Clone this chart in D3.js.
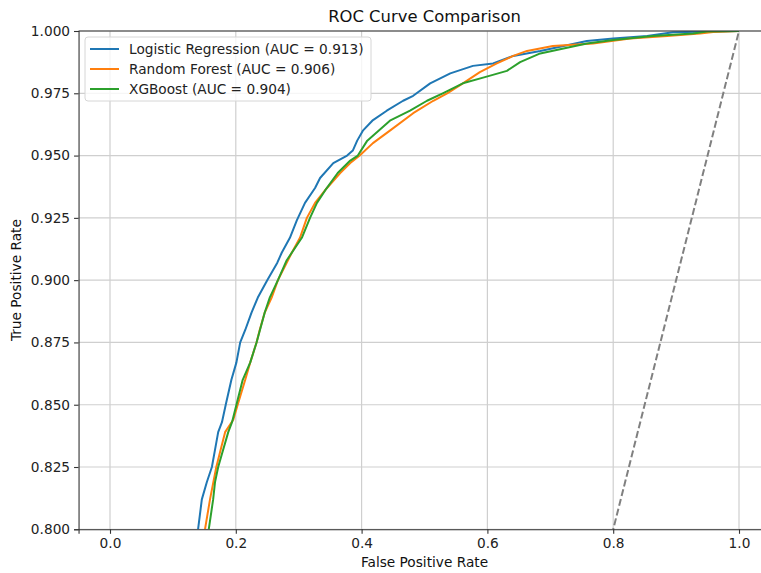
<!DOCTYPE html>
<html>
<head>
<meta charset="utf-8">
<script src="https://cdn.jsdelivr.net/npm/d3@7"></script>
<style>
  body { margin: 0; background: #fff; }
  svg { font-family: "DejaVu Sans", sans-serif; }
  .tick text { font-size: 13.7px; fill: #222; }
</style>
</head>
<body>
<div id="chart"></div>
<script>
// model names and AUC as printed in the legend
var models = ['Logistic Regression', 'Random Forest', 'XGBoost'];
var aucs = [0.913, 0.906, 0.904];
var colours = ['#1f77b4', '#ff7f0e', '#2ca02c'];

// roc points (only the visible part, tpr >= 0.8)
var fpr_lr = [0.140, 0.146, 0.154, 0.162, 0.167, 0.172, 0.178, 0.184, 0.193, 0.201, 0.207, 0.215, 0.225, 0.235, 0.250, 0.266, 0.273, 0.286, 0.297, 0.310, 0.326, 0.334, 0.355, 0.377, 0.386, 0.393, 0.402, 0.417, 0.440, 0.466, 0.482, 0.509, 0.541, 0.577, 0.609, 0.641, 0.684, 0.758, 0.800, 0.854, 0.895, 0.959, 1.000];
var tpr_lr = [0.800, 0.812, 0.819, 0.825, 0.832, 0.839, 0.843, 0.850, 0.860, 0.867, 0.875, 0.880, 0.887, 0.893, 0.900, 0.907, 0.911, 0.917, 0.924, 0.931, 0.937, 0.941, 0.947, 0.950, 0.952, 0.956, 0.960, 0.964, 0.968, 0.972, 0.974, 0.979, 0.983, 0.986, 0.987, 0.990, 0.992, 0.996, 0.997, 0.998, 0.9995, 0.9998, 1.000];

var fpr_rf = [0.151, 0.159, 0.169, 0.176, 0.183, 0.196, 0.203, 0.215, 0.223, 0.233, 0.238, 0.246, 0.257, 0.267, 0.289, 0.302, 0.313, 0.326, 0.345, 0.366, 0.382, 0.397, 0.418, 0.445, 0.482, 0.514, 0.536, 0.561, 0.588, 0.615, 0.641, 0.663, 0.704, 0.768, 0.827, 0.886, 0.938, 0.959, 1.000];
var tpr_rf = [0.800, 0.812, 0.825, 0.832, 0.839, 0.844, 0.850, 0.860, 0.867, 0.875, 0.880, 0.887, 0.893, 0.900, 0.911, 0.917, 0.925, 0.931, 0.937, 0.943, 0.947, 0.950, 0.955, 0.960, 0.967, 0.972, 0.975, 0.979, 0.9835, 0.987, 0.990, 0.992, 0.994, 0.995, 0.997, 0.998, 0.999, 0.9996, 1.000];

var fpr_xgb = [0.157, 0.164, 0.167, 0.172, 0.180, 0.188, 0.194, 0.201, 0.211, 0.223, 0.233, 0.246, 0.254, 0.267, 0.281, 0.305, 0.318, 0.329, 0.342, 0.362, 0.382, 0.394, 0.409, 0.445, 0.477, 0.504, 0.529, 0.561, 0.596, 0.631, 0.652, 0.684, 0.758, 0.800, 0.863, 0.927, 0.949, 1.000];
var tpr_xgb = [0.800, 0.812, 0.819, 0.825, 0.832, 0.839, 0.843, 0.850, 0.860, 0.867, 0.875, 0.887, 0.893, 0.900, 0.908, 0.917, 0.925, 0.931, 0.936, 0.943, 0.948, 0.950, 0.956, 0.964, 0.968, 0.972, 0.975, 0.979, 0.9815, 0.984, 0.9875, 0.991, 0.995, 0.9964, 0.998, 0.999, 0.9998, 1.000];

var x_ticks = [0.0, 0.2, 0.4, 0.6, 0.8, 1.0];
var y_ticks = [0.800, 0.825, 0.850, 0.875, 0.900, 0.925, 0.950, 0.975, 1.000];

function draw_roc() {
  var fprs = [fpr_lr, fpr_rf, fpr_xgb],
      tprs = [tpr_lr, tpr_rf, tpr_xgb];

  var width = 761, height = 573,
      unit = 629,
      x0 = 110,
      font_size = 13.7;

  var x = d3.scaleLinear()
      .domain([-0.05, 1.05])
      .range([x0 - 0.05*unit, x0 + 1.05*unit]);

  var y = d3.scaleLinear()
      .domain([0.8, 1.0])
      .range([529.3, 31]);

  var svg = d3.select('#chart')
      .append('svg')
      .attr('width', width)
      .attr('height', height);

  var p_left = x.range()[0], p_right = x.range()[1],
      p_top = y.range()[1], p_bottom = y.range()[0];

  svg.append('defs').append('clipPath')
      .attr('id', 'plot-clip')
    .append('rect')
      .attr('x', p_left)
      .attr('y', p_top)
      .attr('width', p_right - p_left)
      .attr('height', p_bottom - p_top);

  // grid
  svg.append('g')
    .selectAll('line')
    .data(x_ticks)
    .join('line')
      .attr('x1', d => x(d)).attr('x2', d => x(d))
      .attr('y1', p_top).attr('y2', p_bottom)
      .attr('stroke', '#cfcfcf').attr('stroke-width', 1.2);

  svg.append('g')
    .selectAll('line')
    .data(y_ticks)
    .join('line')
      .attr('x1', p_left).attr('x2', p_right)
      .attr('y1', d => y(d)).attr('y2', d => y(d))
      .attr('stroke', '#cfcfcf').attr('stroke-width', 1.2);

  var plot = svg.append('g').attr('clip-path', 'url(#plot-clip)');

  var line = d3.line()
      .x(d => x(d[0]))
      .y(d => y(d[1]));

  models.forEach(function(m, i) {
    var pts = d3.zip(fprs[i], tprs[i]);
    plot.append('path')
      .datum(pts)
      .attr('d', line)
      .attr('fill', 'none')
      .attr('stroke', colours[i])
      .attr('stroke-width', 2)
      .attr('stroke-linejoin', 'round');
  });

  // chance line
  plot.append('path')
    .datum([[0, 0], [1, 1]])
    .attr('d', line)
    .attr('fill', 'none')
    .attr('stroke', '#808080')
    .attr('stroke-width', 2)
    .attr('stroke-dasharray', '7,3');

  // axes
  var x_axis = svg.append('g')
      .attr('transform', 'translate(0,' + p_bottom + ')')
      .call(d3.axisBottom(x).tickValues(x_ticks).tickFormat(d3.format('.1f')).tickSize(4.5).tickPadding(4));

  var y_axis = svg.append('g')
      .attr('transform', 'translate(' + p_left + ',0)')
      .call(d3.axisLeft(y).tickValues(y_ticks).tickFormat(d3.format('.3f')).tickSize(4.5).tickPadding(4));

  [x_axis, y_axis].forEach(function(a) {
    a.select('.domain').attr('stroke', '#333').attr('stroke-width', 1.1);
    a.selectAll('.tick line').attr('stroke', '#333').attr('stroke-width', 1.1);
    a.selectAll('.tick text').attr('font-family', 'DejaVu Sans');
  });

  // top spine
  svg.append('line')
    .attr('x1', p_left).attr('x2', p_right)
    .attr('y1', p_top).attr('y2', p_top)
    .attr('stroke', '#333').attr('stroke-width', 1.1);

  // title and labels
  svg.append('text')
    .attr('x', (p_left + p_right)/2)
    .attr('y', 22)
    .attr('text-anchor', 'middle')
    .style('font-size', '16.4px')
    .attr('fill', '#111')
    .text('ROC Curve Comparison');

  svg.append('text')
    .attr('x', (p_left + p_right)/2)
    .attr('y', 567)
    .attr('text-anchor', 'middle')
    .style('font-size', font_size + 'px')
    .attr('fill', '#111')
    .text('False Positive Rate');

  svg.append('text')
    .attr('transform', 'translate(21,' + ((p_top + p_bottom)/2) + ') rotate(-90)')
    .attr('text-anchor', 'middle')
    .style('font-size', font_size + 'px')
    .attr('fill', '#111')
    .text('True Positive Rate');

  // legend
  var legend = svg.append('g');

  legend.append('rect')
    .attr('x', 85)
    .attr('y', 37)
    .attr('width', 286)
    .attr('height', 64)
    .attr('rx', 3)
    .attr('fill', '#fff')
    .attr('fill-opacity', 0.8)
    .attr('stroke', '#d6d6d6');

  models.forEach(function(m, i) {
    var ly = 49 + i*20;
    legend.append('line')
      .attr('x1', 90).attr('x2', 119)
      .attr('y1', ly).attr('y2', ly)
      .attr('stroke', colours[i])
      .attr('stroke-width', 2);
    legend.append('text')
      .attr('x', 129)
      .attr('y', ly + 5)
      .style('font-size', font_size + 'px')
      .attr('fill', '#222')
      .text(m + ' (AUC = ' + aucs[i].toFixed(3) + ')');
  });
}

draw_roc();
</script>
</body>
</html>
